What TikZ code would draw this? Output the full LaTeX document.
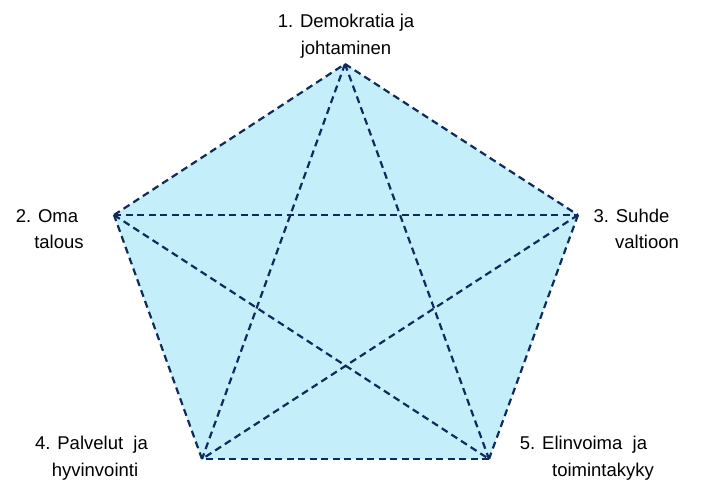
\documentclass[tikz,border=0pt]{standalone}
\usepackage{fontspec}
\setmainfont{Liberation Sans}
\usetikzlibrary{positioning}
\definecolor{pentfill}{RGB}{196,238,250}
\definecolor{pentline}{RGB}{16,42,92}

\begin{document}
\begin{tikzpicture}[
  x=1pt, y=-1pt,
  font=\fontsize{18.5}{26.5}\selectfont,
  pentarea/.style={fill=pentfill, draw=none},
  pentedge/.style={draw=pentline, line width=2.2pt,
                   dash pattern=on 7pt off 4.5pt},
  arealbl/.style={align=center, inner sep=0pt, text=black}
]
\useasboundingbox (0,0) rectangle (701,480);

% ---------------------------------------------- the five corners
\coordinate (demo) at (345,64);
\coordinate (talous) at (114,215);
\coordinate (valtio) at (578,215);
\coordinate (palv) at (202,459);
\coordinate (elin) at (489,459);

% ---------------------------------------------- the area
\fill[pentarea] (demo) -- (valtio) -- (elin) -- (palv) -- (talous) -- cycle;

% ---------------------------------------------- outer edges
\draw[pentedge] (demo) -- (valtio);
\draw[pentedge] (valtio) -- (elin);
\draw[pentedge] (elin) -- (palv);
\draw[pentedge] (palv) -- (talous);
\draw[pentedge] (talous) -- (demo);

% ---------------------------------------------- the star
\draw[pentedge] (demo) -- (palv);
\draw[pentedge] (demo) -- (elin);
\draw[pentedge] (talous) -- (valtio);
\draw[pentedge] (talous) -- (elin);
\draw[pentedge] (valtio) -- (palv);

% ---------------------------------------------- labels
\node[arealbl] (lbldemo) at (346,36) {1. Demokratia ja\\ johtaminen};
\node[arealbl] (lbltalous) at (59,229) {2. Oma\hspace*{24pt}\\ talous};
\node[arealbl] (lblvaltio) at (647,229) {3. Suhde\hspace*{31pt}\\ valtioon};
\node[arealbl] (lblpalv) at (95,458) {4. Palvelut\ \ ja\hspace*{7pt}\\ hyvinvointi};
\node[arealbl] (lblelin) at (603,458) {5. Elinvoima\ \ ja\hspace*{39pt}\\ toimintakyky};

\end{tikzpicture}
\end{document}
